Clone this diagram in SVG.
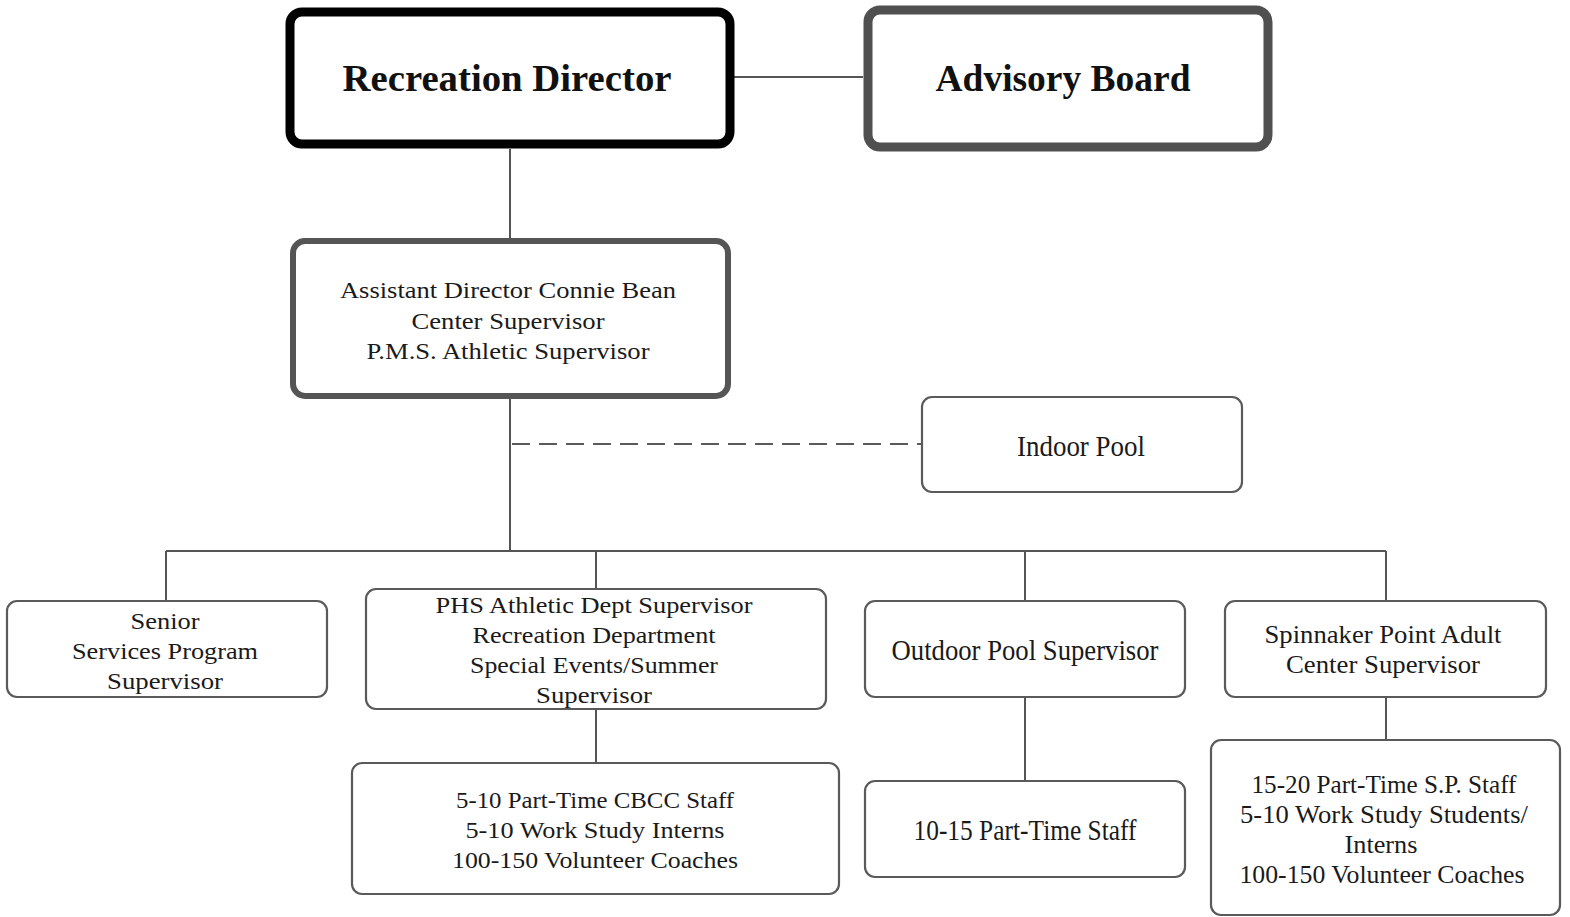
<svg xmlns="http://www.w3.org/2000/svg" width="1570" height="917" viewBox="0 0 1570 917">
  <style>
    .bg { fill: #ffffff; }
    .box { fill: #ffffff; stroke: #5a5a5a; stroke-width: 2.2; }
    .mid { fill: #ffffff; stroke: #555555; stroke-width: 6; }
    .top1 { fill: #ffffff; stroke: #000000; stroke-width: 9; }
    .top2 { fill: #ffffff; stroke: #505050; stroke-width: 9; }
    .wire { fill: none; stroke: #555555; stroke-width: 2; }
    .dash { fill: none; stroke: #5a5a5a; stroke-width: 2.2; stroke-dasharray: 18 9; }
    .t { font-family: "Liberation Serif", "Times New Roman", serif; font-size: 24px; fill: #1a1a1a; text-anchor: middle; }
    .tl { font-size: 30px; }
    .tm { font-size: 26px; }
    .tb { font-family: "Liberation Serif", "Times New Roman", serif; font-size: 37px; font-weight: bold; fill: #111111; text-anchor: middle; }
  </style>
  <rect class="bg" x="0" y="0" width="1570" height="917"/>

  <g id="connectors">
    <line class="wire" x1="734" y1="77" x2="863" y2="77"/>
    <line class="wire" x1="510" y1="149" x2="510" y2="238"/>
    <line class="wire" x1="510" y1="399" x2="510" y2="551"/>
    <line class="dash" x1="512" y1="444" x2="921" y2="444"/>
    <line class="wire" x1="166" y1="551" x2="1386" y2="551"/>
    <line class="wire" x1="166" y1="551" x2="166" y2="601"/>
    <line class="wire" x1="596" y1="551" x2="596" y2="589"/>
    <line class="wire" x1="1025" y1="551" x2="1025" y2="601"/>
    <line class="wire" x1="1386" y1="551" x2="1386" y2="601"/>
    <line class="wire" x1="596" y1="709" x2="596" y2="763"/>
    <line class="wire" x1="1025" y1="697" x2="1025" y2="781"/>
    <line class="wire" x1="1386" y1="697" x2="1386" y2="740"/>
  </g>

  <g id="recreation-director">
    <rect class="top1" x="290" y="12" width="440" height="132" rx="12"/>
    <text class="tb" x="507" y="91" textLength="329" lengthAdjust="spacingAndGlyphs">Recreation Director</text>
  </g>

  <g id="advisory-board">
    <rect class="top2" x="868" y="10" width="400" height="137" rx="12"/>
    <text class="tb" x="1063" y="91" textLength="255" lengthAdjust="spacingAndGlyphs">Advisory Board</text>
  </g>

  <g id="assistant-director">
    <rect class="mid" x="293" y="241" width="435" height="155" rx="12"/>
    <text class="t" x="508" y="298" textLength="336" lengthAdjust="spacingAndGlyphs">Assistant Director Connie Bean</text>
    <text class="t" x="508" y="329" textLength="193" lengthAdjust="spacingAndGlyphs">Center Supervisor</text>
    <text class="t" x="508" y="359" textLength="283" lengthAdjust="spacingAndGlyphs">P.M.S. Athletic Supervisor</text>
  </g>

  <g id="indoor-pool">
    <rect class="box" x="922" y="397" width="320" height="95" rx="10"/>
    <text class="t tl" x="1081" y="456" textLength="128" lengthAdjust="spacingAndGlyphs">Indoor Pool</text>
  </g>

  <g id="senior-services">
    <rect class="box" x="7" y="601" width="320" height="96" rx="10"/>
    <text class="t" x="165" y="629" textLength="69" lengthAdjust="spacingAndGlyphs">Senior</text>
    <text class="t" x="165" y="659" textLength="186" lengthAdjust="spacingAndGlyphs">Services Program</text>
    <text class="t" x="165" y="689" textLength="116" lengthAdjust="spacingAndGlyphs">Supervisor</text>
  </g>

  <g id="phs-athletic">
    <rect class="box" x="366" y="589" width="460" height="120" rx="10"/>
    <text class="t" x="594" y="613" textLength="317" lengthAdjust="spacingAndGlyphs">PHS Athletic Dept Supervisor</text>
    <text class="t" x="594" y="643" textLength="243" lengthAdjust="spacingAndGlyphs">Recreation Department</text>
    <text class="t" x="594" y="673" textLength="248" lengthAdjust="spacingAndGlyphs">Special Events/Summer</text>
    <text class="t" x="594" y="703" textLength="116" lengthAdjust="spacingAndGlyphs">Supervisor</text>
  </g>

  <g id="outdoor-pool">
    <rect class="box" x="865" y="601" width="320" height="96" rx="10"/>
    <text class="t tl" x="1025" y="660" textLength="267" lengthAdjust="spacingAndGlyphs">Outdoor Pool Supervisor</text>
  </g>

  <g id="spinnaker-point">
    <rect class="box" x="1225" y="601" width="321" height="96" rx="10"/>
    <text class="t tm" x="1383" y="643" textLength="237" lengthAdjust="spacingAndGlyphs">Spinnaker Point Adult</text>
    <text class="t tm" x="1383" y="673" textLength="194" lengthAdjust="spacingAndGlyphs">Center Supervisor</text>
  </g>

  <g id="cbcc-staff">
    <rect class="box" x="352" y="763" width="487" height="131" rx="10"/>
    <text class="t" x="595" y="808" textLength="278" lengthAdjust="spacingAndGlyphs">5-10 Part-Time CBCC Staff</text>
    <text class="t" x="595" y="838" textLength="259" lengthAdjust="spacingAndGlyphs">5-10 Work Study Interns</text>
    <text class="t" x="595" y="868" textLength="286" lengthAdjust="spacingAndGlyphs">100-150 Volunteer Coaches</text>
  </g>

  <g id="pool-staff">
    <rect class="box" x="865" y="781" width="320" height="96" rx="10"/>
    <text class="t tl" x="1025" y="840" textLength="223" lengthAdjust="spacingAndGlyphs">10-15 Part-Time Staff</text>
  </g>

  <g id="sp-staff">
    <rect class="box" x="1211" y="740" width="349" height="175" rx="10"/>
    <text class="t tm" x="1384" y="793" textLength="265" lengthAdjust="spacingAndGlyphs">15-20 Part-Time S.P. Staff</text>
    <text class="t tm" x="1384" y="823" textLength="288" lengthAdjust="spacingAndGlyphs">5-10 Work Study Students/</text>
    <text class="t tm" x="1381" y="853" textLength="73" lengthAdjust="spacingAndGlyphs">Interns</text>
    <text class="t tm" x="1382" y="883" textLength="285" lengthAdjust="spacingAndGlyphs">100-150 Volunteer Coaches</text>
  </g>
</svg>
